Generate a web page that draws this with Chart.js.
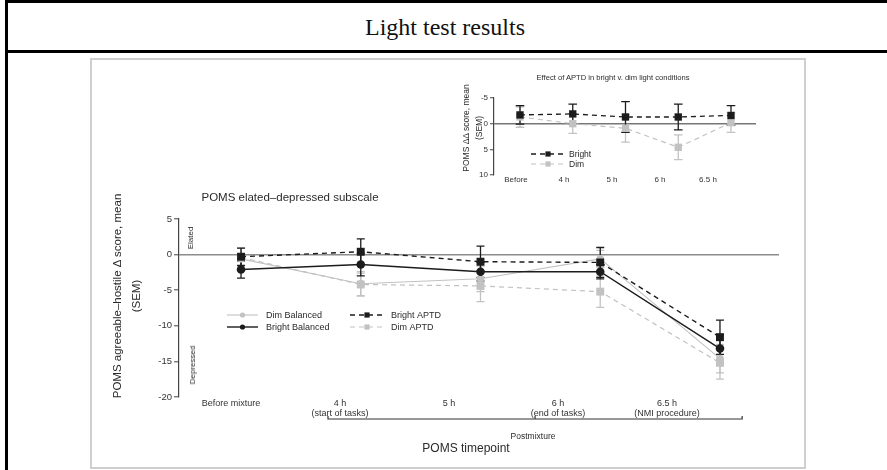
<!DOCTYPE html>
<html><head><meta charset="utf-8">
<script src="https://cdn.jsdelivr.net/npm/chart.js@4.4.1/dist/chart.umd.min.js"></script>
<style>
html,body{margin:0;padding:0;background:#fff;width:887px;height:470px;overflow:hidden;font-family:"Liberation Sans",Arial,sans-serif;}
.bl{position:absolute;background:#000;}
#title{position:absolute;left:5px;width:880px;top:12px;text-align:center;font-family:"Liberation Serif","Times New Roman",serif;font-size:24px;line-height:30px;color:#111;}
#img{position:absolute;left:85px;top:53px;width:725px;height:417px;background:#fff;}
#box{position:absolute;left:90px;top:57.5px;width:712px;height:407px;border:2px solid #cfcfcf;}
canvas{position:absolute;left:0;top:0;}
.t{position:absolute;white-space:nowrap;color:#2a2a2a;line-height:1;}
.rot{transform:translate(-50%,-50%) rotate(-90deg);}
.c{transform:translate(-50%,-50%);}
</style></head>
<body>
<div class="bl" style="left:5px;top:0;width:882px;height:3px"></div>
<div class="bl" style="left:5px;top:0;width:2.5px;height:470px"></div>
<div class="bl" style="left:5px;top:50px;width:882px;height:3px"></div>
<div id="title">Light test results</div>
<div id="img"></div>
<div id="box"></div>
<canvas id="main" width="887" height="470"></canvas>
<canvas id="inset" width="887" height="470"></canvas>
<div class="t c" style="left:290px;top:198px;font-size:11.5px">POMS elated–depressed subscale</div>
<div class="t rot" style="left:118px;top:296px;font-size:11.5px">POMS agreeable–hostile Δ score, mean</div>
<div class="t rot" style="left:137px;top:296px;font-size:11.5px">(SEM)</div>
<div class="t rot" style="left:191px;top:238px;font-size:8px">Elated</div>
<div class="t rot" style="left:193px;top:365px;font-size:8px">Depressed</div>
<div class="t c" style="left:533px;top:436px;font-size:8.5px">Postmixture</div>
<div class="t c" style="left:466px;top:448px;font-size:12px">POMS timepoint</div>
<div class="t c" style="left:613px;top:78px;font-size:7.6px">Effect of APTD in bright v. dim light conditions</div>
<div class="t rot" style="left:466px;top:128px;font-size:8.5px">POMS ΔΔ score, mean</div>
<div class="t rot" style="left:479px;top:128px;font-size:8.5px">(SEM)</div>
<script>
// ---------- main chart data ----------
const mainLabels = [["Before mixture"], ["4 h", "(start of tasks)"], ["5 h"], ["6 h", "(end of tasks)"], ["6.5 h", "(NMI procedure)"]];
const brightAPTD    = [-0.3, 0.4, -1.0, -1.1, -11.6];
const brightAPTDsem = [1.2, 1.8, 2.2, 2.1, 2.4];
const brightBal     = [-2.1, -1.4, -2.4, -2.4, -13.2];
const brightBalSem  = [1.2, 1.6, 1.3, 1.0, 2.0];
const dimBal        = [-0.6, -4.1, -3.4, -0.6, -14.6];
const dimBalSem     = [1.5, 1.7, 1.8, 1.2, 2.0];
const dimAPTD       = [-0.4, -4.2, -4.4, -5.2, -15.2];
const dimAPTDsem    = [1.3, 1.6, 2.2, 2.2, 2.3];
const mainYTicks    = [5, 0, -5, -10, -15, -20];

// ---------- inset chart data ----------
const insetLabels = ["Before", "4 h", "5 h", "6 h", "6.5 h"];
const insetBright    = [-1.7, -1.9, -1.3, -1.3, -1.6];
const insetBrightSem = [1.8, 1.9, 3.0, 2.5, 1.9];
const insetDim       = [-1.3, 0.0, 0.9, 4.6, -0.2];
const insetDimSem    = [2.0, 1.9, 2.7, 2.4, 1.9];
const insetYTicks    = [-5, 0, 5, 10];

const BLACK = '#1c1c1c', GRAY = '#c2c2c2';
Chart.defaults.font.family = "'Liberation Sans', Arial, sans-serif";
Chart.defaults.color = '#333';

const xy = arr => arr.map((v, i) => ({x: i, y: v}));

const errPlugin = {
  id: 'errbars',
  beforeDatasetsDraw(chart) {
    const ctx = chart.ctx;
    const dss = chart.data.datasets;
    for (let i = dss.length - 1; i >= 0; i--) {
      const ds = dss[i];
      if (!ds.sem) continue;
      const meta = chart.getDatasetMeta(i);
      const xs = chart.scales[meta.xAxisID], ys = chart.scales[meta.yAxisID];
      ctx.save();
      ctx.strokeStyle = ds.borderColor; ctx.lineWidth = 1.3; ctx.setLineDash([]);
      ds.data.forEach((p, j) => {
        const x = xs.getPixelForValue(p.x);
        const y1 = ys.getPixelForValue(p.y + ds.sem[j]);
        const y2 = ys.getPixelForValue(p.y - ds.sem[j]);
        const w = ds.capW || 4;
        ctx.beginPath();
        ctx.moveTo(x, y1); ctx.lineTo(x, y2);
        ctx.moveTo(x - w, y1); ctx.lineTo(x + w, y1);
        ctx.moveTo(x - w, y2); ctx.lineTo(x + w, y2);
        ctx.stroke();
      });
      ctx.restore();
    }
  }
};

const legendPlugin = {
  id: 'customLegend',
  afterDraw(chart, args, opts) {
    const ctx = chart.ctx;
    (opts.items || []).forEach(it => {
      const ds = chart.data.datasets[it.ds];
      ctx.save();
      ctx.strokeStyle = ds.borderColor; ctx.lineWidth = ds.borderWidth;
      ctx.setLineDash(ds.borderDash || []);
      ctx.beginPath(); ctx.moveTo(it.x1, it.y); ctx.lineTo(it.x2, it.y); ctx.stroke();
      ctx.setLineDash([]);
      ctx.fillStyle = ds.pointBackgroundColor;
      const mx = (it.x1 + it.x2) / 2, r = it.r || 2.6;
      if (ds.pointStyle === 'rect') ctx.fillRect(mx - r, it.y - r, 2 * r, 2 * r);
      else { ctx.beginPath(); ctx.arc(mx, it.y, r, 0, Math.PI * 2); ctx.fill(); }
      ctx.fillStyle = '#2a2a2a';
      ctx.font = (it.size || 9) + "px 'Liberation Sans', Arial, sans-serif";
      ctx.textBaseline = 'middle'; ctx.textAlign = 'left';
      ctx.fillText(it.text, it.tx, it.y + 0.5);
      ctx.restore();
    });
  }
};

const bracketPlugin = {
  id: 'bracket',
  afterDraw(chart, args, opts) {
    if (!opts.on) return;
    const ctx = chart.ctx, s = chart.scales.xl;
    const x1 = s.getPixelForValue(opts.from), x2 = s.getPixelForValue(opts.to), xm = s.getPixelForValue(opts.mid);
    ctx.save(); ctx.strokeStyle = '#333'; ctx.lineWidth = 1.2;
    ctx.beginPath();
    ctx.moveTo(x1, opts.y - 3); ctx.lineTo(x1, opts.y); ctx.lineTo(x2, opts.y); ctx.lineTo(x2, opts.y - 3);
    ctx.moveTo(xm, opts.y); ctx.lineTo(xm, opts.y - 3);
    ctx.stroke(); ctx.restore();
  }
};

function lineDs(label, vals, sem, color, dashed, style, radius, width, cap) {
  return {
    label, data: xy(vals), sem, capW: cap,
    borderColor: color, borderWidth: width, borderDash: dashed ? [5, 4] : [],
    pointStyle: style, pointRadius: radius, pointBackgroundColor: color, pointBorderColor: color, pointBorderWidth: 0,
    tension: 0, fill: false, xAxisID: 'x', yAxisID: 'y'
  };
}

new Chart(document.getElementById('main'), {
  type: 'line',
  data: { datasets: [
    lineDs('Bright APTD', brightAPTD, brightAPTDsem, BLACK, true, 'rect', 5.6, 1.4, 4),
    lineDs('Bright Balanced', brightBal, brightBalSem, BLACK, false, 'circle', 4.3, 1.4, 4),
    lineDs('Dim APTD', dimAPTD, dimAPTDsem, GRAY, true, 'rect', 5.6, 1.2, 4),
    lineDs('Dim Balanced', dimBal, dimBalSem, GRAY, false, 'circle', 3.8, 1.1, 4)
  ]},
  options: {
    responsive: false, animation: false, devicePixelRatio: 1,
    layout: { padding: { left: 0, top: 219, right: 108, bottom: 33 } },
    plugins: {
      legend: { display: false }, tooltip: { enabled: false },
      customLegend: { items: [
        { ds: 3, text: 'Dim Balanced', x1: 227, x2: 258, y: 315, tx: 266 },
        { ds: 1, text: 'Bright Balanced', x1: 227, x2: 258, y: 327, tx: 266 },
        { ds: 0, text: 'Bright APTD', x1: 350, x2: 384, y: 315, tx: 391 },
        { ds: 2, text: 'Dim APTD', x1: 350, x2: 384, y: 327, tx: 391 }
      ]},
      bracket: { on: true, from: 0.89, to: 4.69, mid: 2.79, y: 419 }
    },
    scales: {
      x: { type: 'linear', min: -0.518, max: 4.493, display: false },
      xl: {
        type: 'linear', position: 'bottom', min: -0.477, max: 5.028,
        afterBuildTicks: s => { s.ticks = mainLabels.map((_, i) => ({ value: i })); },
        ticks: { callback: v => mainLabels[v], font: { size: 9, lineHeight: 1.15 }, color: '#333', padding: 1, maxRotation: 0, autoSkip: false },
        grid: { display: false, drawTicks: false }, border: { display: false },
        afterFit: s => { s.height = 40; }
      },
      y: {
        type: 'linear', min: -20, max: 5,
        afterBuildTicks: s => { s.ticks = mainYTicks.map(v => ({ value: v })); },
        ticks: { font: { size: 9.5 }, color: '#333', padding: 2 },
        grid: { drawOnChartArea: true, color: c => (c.tick && c.tick.value === 0) ? '#8c8c8c' : 'rgba(0,0,0,0)', lineWidth: 1.6, tickLength: 5, tickColor: '#444', tickWidth: 1 },
        border: { display: true, color: '#444', width: 1.2 },
        afterFit: s => { s.width = 179; }
      }
    }
  },
  plugins: [errPlugin, legendPlugin, bracketPlugin]
});

new Chart(document.getElementById('inset'), {
  type: 'line',
  data: { datasets: [
    lineDs('Bright', insetBright, insetBrightSem, BLACK, true, 'rect', 5.2, 1.3, 4.3),
    lineDs('Dim', insetDim, insetDimSem, GRAY, true, 'rect', 5.2, 1.2, 4.3)
  ]},
  options: {
    responsive: false, animation: false, devicePixelRatio: 1,
    layout: { padding: { left: 0, top: 98, right: 131, bottom: 275 } },
    plugins: {
      legend: { display: false }, tooltip: { enabled: false },
      customLegend: { items: [
        { ds: 0, text: 'Bright', x1: 531, x2: 565, y: 154, tx: 569, size: 8.5, r: 2.6 },
        { ds: 1, text: 'Dim', x1: 531, x2: 565, y: 164, tx: 569, size: 8.5, r: 2.6 }
      ]},
      bracket: { on: false }
    },
    scales: {
      x: { type: 'linear', min: -0.493, max: 4.474, display: false },
      xl: {
        type: 'linear', position: 'bottom', min: -0.458, max: 5.0,
        afterBuildTicks: s => { s.ticks = insetLabels.map((_, i) => ({ value: i })); },
        ticks: { callback: v => insetLabels[v], font: { size: 8 }, color: '#333', padding: 0, maxRotation: 0, autoSkip: false },
        grid: { display: false, drawTicks: false }, border: { display: false },
        afterFit: s => { s.height = 20; }
      },
      y: {
        type: 'linear', min: -5, max: 10, reverse: true,
        afterBuildTicks: s => { s.ticks = insetYTicks.map(v => ({ value: v })); },
        ticks: { font: { size: 8 }, color: '#333', padding: 2 },
        grid: { drawOnChartArea: true, color: c => (c.tick && c.tick.value === 0) ? '#777' : 'rgba(0,0,0,0)', lineWidth: 1.5, tickLength: 4, tickColor: '#444', tickWidth: 1 },
        border: { display: true, color: '#444', width: 1.2 },
        afterFit: s => { s.width = 494; }
      }
    }
  },
  plugins: [errPlugin, legendPlugin]
});
</script>
</body></html>
